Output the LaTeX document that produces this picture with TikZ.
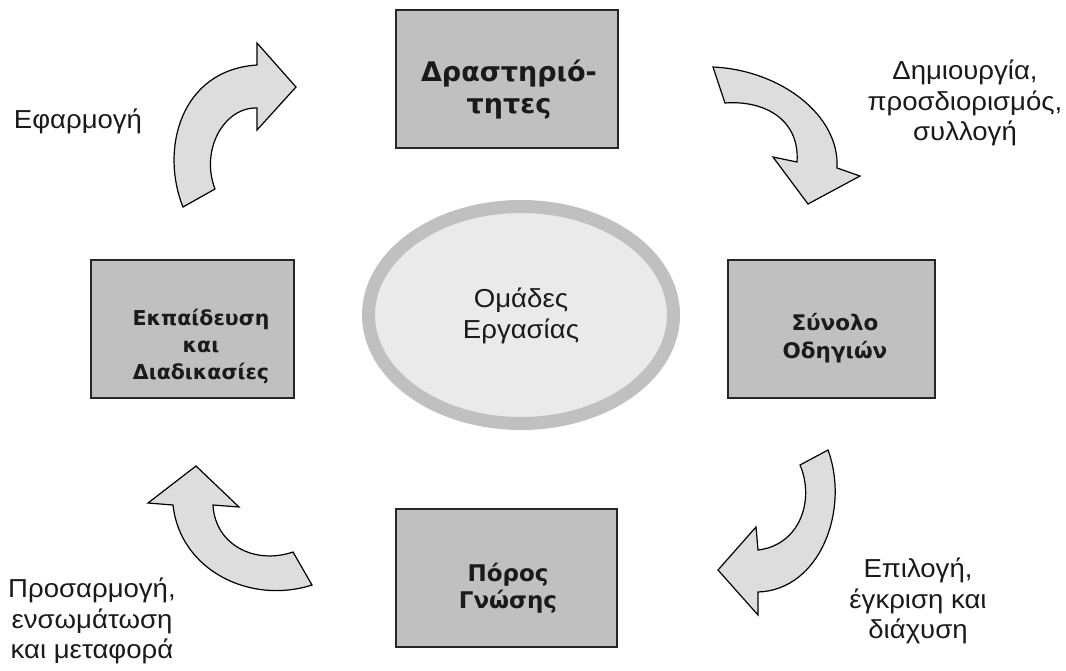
\documentclass[tikz,border=0pt]{standalone}
\usepackage{fontspec}
\setmainfont{Liberation Sans}[FakeStretch=1.06]
\newfontfamily\boxfont{DejaVu Sans}
\definecolor{boxgray}{HTML}{C0C0C0}
\definecolor{arrowgray}{HTML}{DDDDDD}
\definecolor{ringgray}{HTML}{C0C0C0}
\definecolor{corefill}{HTML}{EAEAEA}
\definecolor{inktext}{HTML}{1A1A1A}
\tikzset{
  stage/.style={draw=black!85, line width=1.3pt, fill=boxgray, inner sep=0pt},
  stagetext/.style={font=\boxfont\bfseries, align=center, text=inktext, inner sep=0pt},
  note/.style={align=center, text=inktext, inner sep=0pt,
    font=\fontsize{26}{30.5}\selectfont},
  bendarrow/.style={fill=arrowgray, draw=black, line width=1.2pt, line join=miter},
}
\begin{document}
\begin{tikzpicture}[x=1pt, y=-1pt]
\useasboundingbox (0,0) rectangle (1066,670);

% four stages of the cycle
\node[stage, minimum width=222pt, minimum height=138pt] (act) at (507,79) {};
\node[stage, minimum width=207pt, minimum height=138pt] (guide) at (831.5,329) {};
\node[stage, minimum width=221pt, minimum height=138pt] (know) at (506.5,578) {};
\node[stage, minimum width=203pt, minimum height=138pt] (train) at (192.5,329) {};

\node[stagetext, font=\boxfont\bfseries\fontsize{27}{32}\selectfont] (actT) at (509,90) {Δραστηριό-\\τητες};
\node[stagetext, font=\boxfont\bfseries\fontsize{21.5}{28}\selectfont] (guideT) at (835,338) {Σύνολο\\Οδηγιών};
\node[stagetext, font=\boxfont\bfseries\fontsize{23}{27.5}\selectfont] (knowT) at (508,588) {Πόρος\\Γνώσης};
\node[stagetext, font=\boxfont\bfseries\fontsize{20.5}{27}\selectfont] (trainT) at (201,346) {Εκπαίδευση\\και\\Διαδικασίες};

% central ellipse
\draw[draw=ringgray, fill=corefill, line width=13pt] (521,315) ellipse [x radius=152.5, y radius=108.5];
\node[note] (team) at (521,316) {Ομάδες\\Εργασίας};

% curved block arrows
\draw[bendarrow] (183,207) .. controls (160,150) and (180,70) .. (257,65)
  -- (257,43) -- (296,87) -- (257,130) -- (257,108)
  .. controls (224,107) and (200,150) .. (215,189) -- cycle;
\draw[bendarrow] (713,67) .. controls (780,70) and (840,115) .. (837,168)
  -- (860,176) -- (808,204) -- (773,157) -- (797,162)
  .. controls (800,120) and (765,100) .. (725,103) -- cycle;
\draw[bendarrow] (828,450) .. controls (850,510) and (820,590) .. (758,592)
  -- (758,615) -- (718,570) -- (756,527) -- (758,550)
  .. controls (800,545) and (815,500) .. (800,465) -- cycle;
\draw[bendarrow] (312,585) -- (293,552)
  .. controls (255,565) and (215,545) .. (213,505)
  -- (239,507) -- (196,466) -- (148,503) -- (173,505)
  .. controls (180,570) and (250,605) .. (312,585) -- cycle;

% transition labels
\node[note] (apply) at (78,121) {Εφαρμογή};
\node[note] (create) at (965,103) {Δημιουργία,\\προσδιορισμός,\\συλλογή};
\node[note] (select) at (918,601) {Επιλογή,\\έγκριση και\\διάχυση};
\node[note] (adapt) at (92,621) {Προσαρμογή,\\ενσωμάτωση\\και μεταφορά};
\end{tikzpicture}
\end{document}
